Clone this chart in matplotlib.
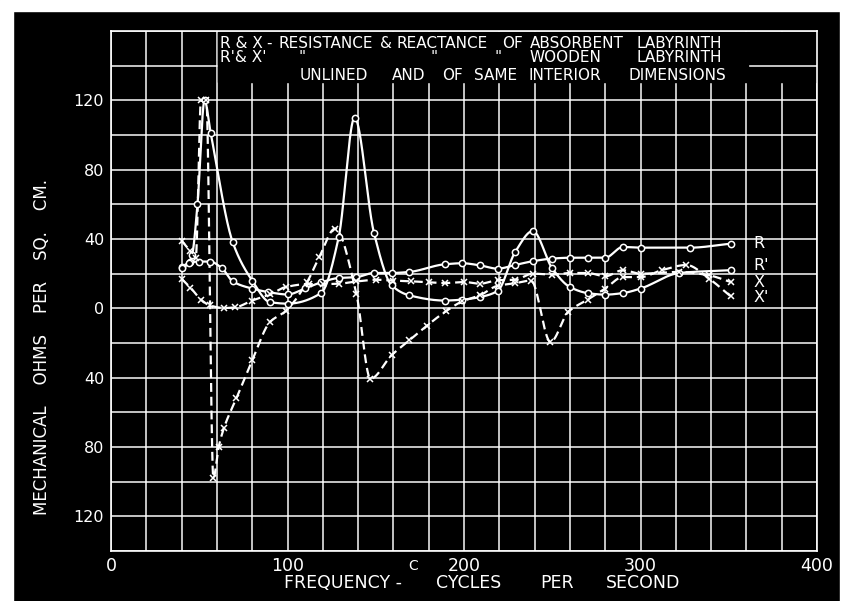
import numpy as np
import matplotlib
matplotlib.use('Agg')
import matplotlib.pyplot as plt
from matplotlib.patches import Rectangle

# R  - resistance, absorbent labyrinth
r_freq = [40, 45, 50, 56, 63, 69, 80, 89, 100, 110, 119, 129, 139, 149, 159, 169,
          189, 199, 209, 219, 229, 239, 250, 260, 270, 280, 290, 300, 328, 351]
r_val = [24, 26.5, 27, 27, 23, 15.5, 11.4, 9.4, 8, 11.5, 15, 17.5, 18, 20.4, 20.4, 21,
         25.4, 26, 24.8, 22.9, 25, 27.2, 28.7, 29.2, 29.2, 29.2, 35.4, 35, 35, 37.3]

# R' - resistance, wooden labyrinth
r1_freq = [40, 44, 46, 49, 53, 56.5, 69, 80, 90, 100, 119, 129, 138, 149, 159, 169,
           189, 199, 209, 219, 229, 239, 250, 260, 270, 280, 290, 300, 322, 351]
r1_val = [23, 26, 31, 60, 120, 101, 38, 16, 3.6, 2.7, 8.8, 41, 110, 43.5, 13.3, 7.5,
          4.5, 5, 6.5, 10, 32.5, 44.6, 23, 12.3, 8.8, 7.9, 8.8, 11.4, 20.4, 22]

# X  - reactance, absorbent labyrinth
x_freq = [40, 45, 51, 56, 64, 70, 80, 90, 99, 112, 120, 129, 139, 150, 160, 170, 180,
          189, 200, 209, 219, 229, 239, 250, 260, 270, 280, 290, 300, 322, 339, 351]
x_val = [17, 12, 5, 1.7, 0.2, 0.5, 4.5, 8, 12.3, 14, 14, 14.2, 15.5, 16.5, 16, 15.6, 15,
         14.6, 15.2, 14.2, 16.2, 16.5, 20, 19.5, 20.4, 20.4, 18.5, 22, 20, 21, 19, 15.2]

# X' - reactance, wooden labyrinth
x1_freq = [40, 45, 48, 51, 54, 58, 61, 64, 71, 80, 90, 99, 111, 118, 127, 139, 147,
           159, 169, 179, 190, 199, 209, 219, 229, 238, 249, 259, 270, 280, 290, 300,
           312, 326, 339, 351]
x1_val = [39, 33, 29, 120, 120, -98, -80, -69, -52, -30, -8, -1.5, 15, 29.6, 46, 8.5,
          -40.6, -27, -18.5, -10, -1.5, 4, 7.5, 13, 14.5, 16, -19.4, -2.1, 5, 11.4, 18,
          18, 22, 25, 17, 7]


def smooth(x, y, per=40):
    # monotone cubic (pchip) through the read points, like a french curve
    x = np.asarray(x, float)
    y = np.asarray(y, float)
    h = np.diff(x)
    d = np.diff(y) / h
    m = np.zeros_like(y)
    m[0], m[-1] = d[0], d[-1]
    for k in range(1, len(x) - 1):
        if d[k - 1] * d[k] > 0:
            w1 = 2 * h[k] + h[k - 1]
            w2 = h[k] + 2 * h[k - 1]
            m[k] = (w1 + w2) / (w1 / d[k - 1] + w2 / d[k])
    xs, ys = [], []
    t = np.linspace(0, 1, per, endpoint=False)
    for k in range(len(x) - 1):
        h00 = 2 * t**3 - 3 * t**2 + 1
        h10 = t**3 - 2 * t**2 + t
        h01 = -2 * t**3 + 3 * t**2
        h11 = t**3 - t**2
        ys.append(h00 * y[k] + h10 * h[k] * m[k] + h01 * y[k + 1] + h11 * h[k] * m[k + 1])
        xs.append(x[k] + t * h[k])
    xs.append([x[-1]])
    ys.append([y[-1]])
    return np.concatenate(xs), np.concatenate(ys)


W, H = 847, 601
fig = plt.figure(figsize=(W / 100, H / 100), dpi=100)
fig.patch.set_facecolor('black')
# white paper border of the photo
fig.add_artist(Rectangle((0, 1 - 11 / H), 1, 11 / H, transform=fig.transFigure, color='white', zorder=0))
fig.add_artist(Rectangle((0, 0), 13 / W, 1, transform=fig.transFigure, color='white', zorder=0))
fig.add_artist(Rectangle((840 / W, 0), 7 / W, 1, transform=fig.transFigure, color='white', zorder=0))

ax = fig.add_axes([111 / W, 1 - 551 / H, 706 / W, 520 / H])
ax.set_facecolor('black')
ax.set_xlim(0, 400)
ax.set_ylim(-140, 160)

xt = np.arange(0, 401, 20)
ax.set_xticks(xt)
ax.set_xticklabels([str(v) if v % 100 == 0 else '' for v in xt])
yt = np.arange(-140, 161, 20)
ax.set_yticks(yt)
ax.set_yticklabels([str(abs(v)) if v % 40 == 0 and abs(v) <= 120 else '' for v in yt])
ax.tick_params(length=0, colors='white', labelsize=11.5)
ax.tick_params(axis='x', pad=4, labelsize=12.5)
ax.tick_params(axis='y', pad=5)
ax.grid(True, color='white', lw=1.2, alpha=0.9)
ax.set_axisbelow(True)
for s in ax.spines.values():
    s.set_color('white')
    s.set_linewidth(1.2)

# blank area for the legend lettering
ax.add_patch(Rectangle((60.6, 130.6), 339, 29, color='black', zorder=1.5))
ax.plot([362, 400], [140, 140], color='white', lw=1.2, alpha=0.9, zorder=1.6)

lw = 1.6
for fx, vy in [(r_freq, r_val), (r1_freq, r1_val)]:
    sx, sy = smooth(fx, vy)
    ax.plot(sx, sy, color='white', lw=lw, zorder=3)
    ax.plot(fx, vy, ls='none', marker='o', ms=4.5, mfc='black', mec='white', mew=1.1, zorder=4)
for fx, vy in [(x_freq, x_val), (x1_freq, x1_val)]:
    sx, sy = smooth(fx, vy)
    ax.plot(sx, sy, color='white', lw=lw, dashes=(4, 2.2), zorder=3)
    ax.plot(fx, vy, ls='none', marker='x', ms=5, mec='white', mew=1.1, zorder=4)

# curve names at the right end
for lbl, yy in [("R", 37.5), ("R'", 24.8), ("X", 15), ("X'", 6.4)]:
    ax.text(364, yy, lbl, color='white', fontsize=11.5, va='center', ha='left', zorder=5)


def ftext(x, y, s, size=11, **kw):
    fig.text(x / W, 1 - y / H, s, color='white', fontsize=size, va='center', **kw)


# legend lettering
line1 = [(220, "R & X"), (266, "-"), (278, "RESISTANCE"), (380, "&"), (396, "REACTANCE"),
         (502, "OF"), (530, "ABSORBENT"), (636, "LABYRINTH")]
for x, s in line1:
    ftext(x, 43, s)
line2 = [(220, "R'& X'"), (298, '"'), (430, '"'), (494, '"'), (530, "WOODEN"), (636, "LABYRINTH")]
for x, s in line2:
    ftext(x, 58, s)
line3 = [(300, "UNLINED"), (392, "AND"), (442, "OF"), (474, "SAME"), (528, "INTERIOR"),
         (628, "DIMENSIONS")]
for x, s in line3:
    ftext(x, 75, s)

# axis titles
for x, s in [(284, "FREQUENCY -"), (436, "CYCLES"), (540, "PER"), (606, "SECOND")]:
    ftext(x, 583, s, size=12.5)
fig.text(42 / W, 1 - 347 / H, "MECHANICAL    OHMS    PER    SQ.    CM.", color='white',
         fontsize=12, rotation=90, ha='center', va='center')
ftext(408, 566, "C", size=10)

fig.savefig('out.png', dpi=100, facecolor=fig.get_facecolor())
